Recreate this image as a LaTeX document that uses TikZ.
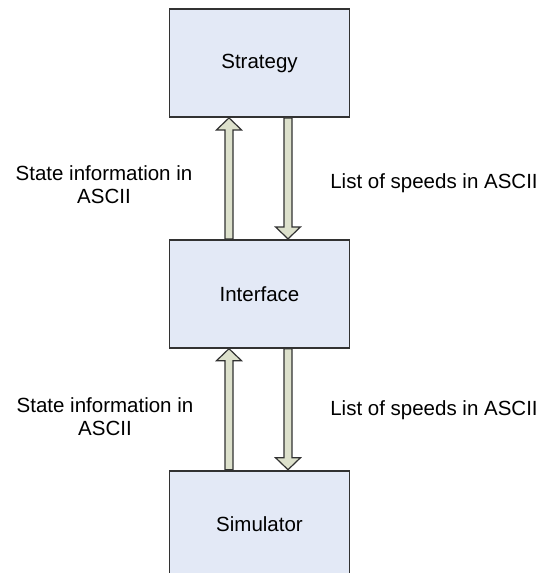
\documentclass[tikz,border=0pt]{standalone}
\usepackage{fontspec}
\setmainfont{Liberation Sans}
\usepackage{tikz}
\usetikzlibrary{positioning,calc}
\definecolor{boxclr}{RGB}{227, 233, 246}
\definecolor{arrclr}{RGB}{221, 225, 204}
\definecolor{lineclr}{RGB}{50, 50, 50}
\tikzset{ %
  ,every node/.style={font=\fontsize{20.5}{23}\selectfont}
  ,blk/.style={draw=lineclr, line width=1.8pt, fill=boxclr, minimum width=180pt, minimum height=108pt, node distance=121pt}
  ,fatarr/.style={draw=lineclr, line width=1.2pt, fill=arrclr, line join=miter}
  ,lbl/.style={align=center, inner sep=0}
}
% block arrow from #1 to #2 (vertical only)
\newcommand{\fatarrow}[2]{%
  \draw[fatarr] let \p1=(#1), \p2=(#2), \n1={sign(\y2-\y1)*12} in
    ({\x1-4},\y1) -- ({\x1-4},{\y2-\n1}) -- ({\x1-12.5},{\y2-\n1}) -- (\x1,\y2)
    -- ({\x1+12.5},{\y2-\n1}) -- ({\x1+4},{\y2-\n1}) -- ({\x1+4},\y1) -- cycle;}

\begin{document}
\begin{tikzpicture}[x=1pt, y=-1pt]
      \useasboundingbox (0,0) rectangle (543,573);
      \fill[white] (0,0) rectangle (543,573);
      \draw 
      node[blk] (strat) at (259.5,63) {Strategy}
      node[blk, below=of strat] (iface) {Interface}
      node[blk, below=of iface] (sim) {Simulator};
      \fatarrow{$(iface.north)+(-30.5,0)$}{$(strat.south)+(-30.5,0)$}
      \fatarrow{$(strat.south)+(28.5,0)$}{$(iface.north)+(28.5,0)$}
      \fatarrow{$(sim.north)+(-30.5,0)$}{$(iface.south)+(-30.5,0)$}
      \fatarrow{$(iface.south)+(28.5,0)$}{$(sim.north)+(28.5,0)$}
      \node[lbl] (up1) at (104,185) {State information in\\ASCII};
      \node[lbl] (dn1) at (434,183) {List of speeds in ASCII};
      \node[lbl] (up2) at (105,417) {State information in\\ASCII};
      \node[lbl] (dn2) at (434,410) {List of speeds in ASCII};
    \end{tikzpicture}
\end{document}
